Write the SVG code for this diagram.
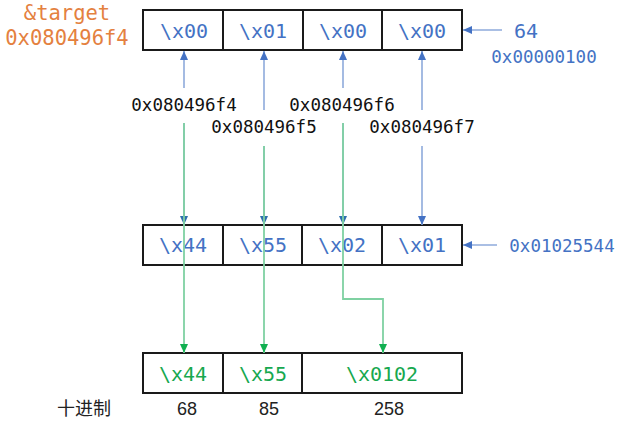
<svg xmlns="http://www.w3.org/2000/svg" width="620" height="424" viewBox="0 0 620 424">
<style>
.box{fill:#fff;stroke:#1a1a1a;stroke-width:2}
.mono{font-family:"DejaVu Sans Mono","Liberation Mono",monospace}
.cell{font-size:20px;text-anchor:middle}
.blue{fill:#4472c4}
.green{fill:#17a84f}
.orange{fill:#e4813f}
.addr{font-size:17.5px;fill:#111}
.bl{stroke:#8eaadb;stroke-width:1.6;fill:none}
.gl{stroke:#7fd1a2;stroke-width:1.8;fill:none}
.dec{font-family:"Liberation Sans","Noto Sans CJK SC",sans-serif;font-size:18px;fill:#222;text-anchor:middle}
</style>
<defs>
<marker id="ab" markerUnits="userSpaceOnUse" markerWidth="10" markerHeight="10" refX="9" refY="5" orient="auto"><path d="M0,1 L9,5 L0,9 Z" fill="#4472c4"/></marker>
<marker id="ag" markerUnits="userSpaceOnUse" markerWidth="10" markerHeight="10" refX="9" refY="5" orient="auto"><path d="M0,1 L9,5 L0,9 Z" fill="#10b050"/></marker>
<marker id="at" markerUnits="userSpaceOnUse" markerWidth="10" markerHeight="10" refX="9" refY="5" orient="auto"><path d="M0,1 L9,5 L0,9 Z" fill="#2e6fae"/></marker>
</defs>
<rect width="620" height="424" fill="#fff"/>

<g id="target-label">
<text class="mono orange" x="67" y="20" font-size="20.5" text-anchor="middle">&amp;target</text>
<text class="mono orange" x="67" y="45" font-size="20.5" text-anchor="middle">0x080496f4</text>
</g>

<g id="top-row">
<rect class="box" x="143" y="10" width="319" height="40"/>
<path d="M223,10V50M303,10V50M382,10V50" stroke="#1a1a1a" stroke-width="2"/>
<text class="mono cell blue" x="184" y="38">\x00</text>
<text class="mono cell blue" x="263" y="38">\x01</text>
<text class="mono cell blue" x="343" y="38">\x00</text>
<text class="mono cell blue" x="422" y="38">\x00</text>
</g>

<g id="value-64">
<text class="mono blue" x="526" y="38" font-size="20" text-anchor="middle">64</text>
<text class="mono blue" x="544" y="63" font-size="17.5" text-anchor="middle">0x00000100</text>
</g>

<g id="addresses">
<text class="mono addr" x="184" y="111" text-anchor="middle">0x080496f4</text>
<text class="mono addr" x="264" y="133" text-anchor="middle">0x080496f5</text>
<text class="mono addr" x="342" y="111" text-anchor="middle">0x080496f6</text>
<text class="mono addr" x="422" y="133" text-anchor="middle">0x080496f7</text>
</g>

<g id="middle-row">
<rect class="box" x="143" y="225" width="319" height="40"/>
<path d="M223,225V265M302,225V265M382,225V265" stroke="#1a1a1a" stroke-width="2"/>
<text class="mono cell blue" x="183" y="252">\x44</text>
<text class="mono cell blue" x="263" y="252">\x55</text>
<text class="mono cell blue" x="342" y="252">\x02</text>
<text class="mono cell blue" x="422" y="252">\x01</text>
</g>

<g id="value-0x01025544">
<text class="mono blue" x="562" y="252" font-size="17.5" text-anchor="middle">0x01025544</text>
</g>

<g id="bottom-row">
<rect class="box" x="143" y="353" width="319" height="40"/>
<path d="M223,353V393M302,353V393" stroke="#1a1a1a" stroke-width="2"/>
<text class="mono cell green" x="183" y="381">\x44</text>
<text class="mono cell green" x="263" y="381">\x55</text>
<text class="mono cell green" x="382" y="381">\x0102</text>
</g>

<g id="decimal">
<text class="dec" x="84" y="415" font-size="19">十进制</text>
<text class="dec" x="187" y="415">68</text>
<text class="dec" x="269" y="415">85</text>
<text class="dec" x="389" y="415">258</text>
</g>

<g id="connectors">
<path class="bl" d="M184,88V51" marker-end="url(#ab)"/>
<path class="bl" d="M264,110V51" marker-end="url(#ab)"/>
<path class="bl" d="M343,88V51" marker-end="url(#ab)"/>
<path class="bl" d="M422,110V51" marker-end="url(#ab)"/>
<path class="bl" d="M502,30H463" marker-end="url(#ab)"/>
<path class="bl" d="M497,245H463" marker-end="url(#ab)"/>
<path class="bl" d="M184,123V225" marker-end="url(#at)"/>
<path class="bl" d="M264,146V225" marker-end="url(#at)"/>
<path class="bl" d="M343,123V225" marker-end="url(#at)"/>
<path class="bl" d="M422,146V225" marker-end="url(#ab)"/>
<path class="gl" d="M184,123V353" marker-end="url(#ag)"/>
<path class="gl" d="M264,146V353" marker-end="url(#ag)"/>
<path class="gl" d="M343,123V299H383V353" marker-end="url(#ag)"/>
</g>
</svg>
